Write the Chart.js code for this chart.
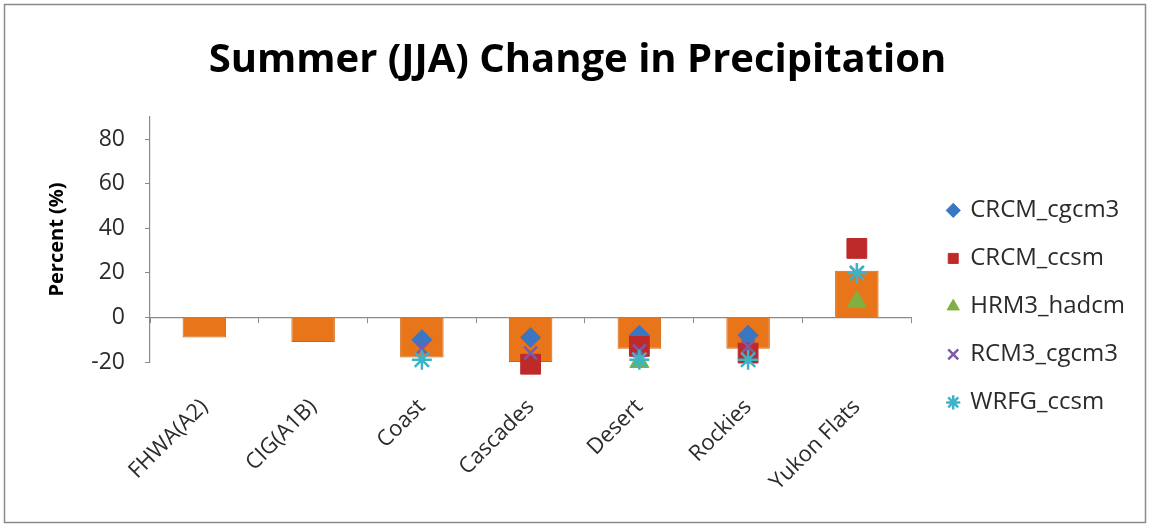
<!DOCTYPE html>
<html>
<head>
<meta charset="utf-8">
<script src="https://cdn.jsdelivr.net/npm/chart.js@4.4.1/dist/chart.umd.min.js"></script>
<style>
  html, body { margin: 0; padding: 0; background: #fff; }
  #wrap { position: relative; width: 1151px; height: 527px; }
</style>
</head>
<body>
<div id="wrap"><canvas id="c" width="1151" height="527"></canvas></div>
<script>
const categories = ['FHWA(A2)', 'CIG(A1B)', 'Coast', 'Cascades', 'Desert', 'Rockies', 'Yukon Flats'];
const ensembleMean = [-9, -11, -18, -20, -14, -14, 21];
const crcmCgcm3 = [null, null, -10, -9, -8, -8, null];
const crcmCcsm  = [null, null, null, -21, -13, -16, 31];
const hrm3Hadcm = [null, null, null, null, -20, null, 7];
const rcm3Cgcm3 = [null, null, -14, -16, -15, -13, 20];
const wrfgCcsm  = [null, null, -19, null, -19, -19, 20];
const yTicks = [-20, 0, 20, 40, 60, 80];
const yMin = -20, yMax = 90;

const FONT = "'Open Sans', 'DejaVu Sans', sans-serif";

const framePlugin = {
  id: 'frame',
  beforeDraw(chart) {
    const ctx = chart.ctx;
    ctx.save();
    ctx.fillStyle = '#ffffff';
    ctx.fillRect(0, 0, chart.width, chart.height);
    ctx.strokeStyle = '#8a8a8a';
    ctx.lineWidth = 1.5;
    ctx.strokeRect(4.5, 4.5, chart.width - 10, chart.height - 9);
    ctx.restore();
  }
};

function markerSet(label, data, style, color, radius, order, bw) {
  return {
    type: 'line', label, data, showLine: false, order, clip: false,
    pointStyle: style, pointRadius: radius, pointHoverRadius: radius,
    backgroundColor: color, borderColor: color, pointBorderWidth: bw,
    borderWidth: bw
  };
}

new Chart(document.getElementById('c'), {
  type: 'bar',
  data: {
    labels: categories,
    datasets: [
      {
        label: 'Ensemble', data: ensembleMean, order: 10,
        backgroundColor: '#E8751A', borderColor: '#D2640E', borderWidth: 1,
        barPercentage: 0.4, categoryPercentage: 1.0
      },
      markerSet('CRCM_cgcm3', crcmCgcm3, 'rectRot', '#3A76C2', 10, 5, 1),
      markerSet('CRCM_ccsm', crcmCcsm, 'rect', '#BE2A2A', 14, 4, 1),
      markerSet('HRM3_hadcm', hrm3Hadcm, 'triangle', '#7FB040', 11, 3, 1),
      markerSet('RCM3_cgcm3', rcm3Cgcm3, 'crossRot', '#7A5BA8', 9, 2, 2.5),
      markerSet('WRFG_ccsm', wrfgCcsm, 'star', '#3CB4C8', 10, 1, 2.5)
    ]
  },
  options: {
    responsive: false,
    animation: false,
    events: [],
    layout: { padding: { top: 10, right: 16, bottom: 23, left: 20 } },
    plugins: {
      title: {
        display: true,
        text: 'Summer (JJA) Change in Precipitation',
        color: '#000',
        font: { family: FONT, size: 40, weight: 'bold' },
        padding: { top: 27, bottom: 32 }
      },
      legend: {
        position: 'right',
        align: 'start',
        maxWidth: 240,
        title: { display: true, text: '', padding: { top: 150, bottom: 0 } },
        labels: {
          usePointStyle: true, boxWidth: 10, boxHeight: 10,
          padding: 24, color: '#2b2b2b',
          font: { family: FONT, size: 24 },
          filter: (item) => item.datasetIndex !== 0,
          sort: (a, b) => a.datasetIndex - b.datasetIndex
        }
      },
      tooltip: { enabled: false }
    },
    scales: {
      x: {
        type: 'category',
        position: 'bottom',
        afterFit: (axis) => { axis.height = 142; },
        grid: { display: false, drawTicks: false },
        border: { display: false },
        ticks: {
          color: '#2b2b2b', font: { family: FONT, size: 22 },
          minRotation: 45, maxRotation: 45, padding: 32
        }
      },
      x0: {
        type: 'category',
        labels: categories,
        position: { y: 0 },
        offset: true,
        grid: { display: true, drawOnChartArea: false, drawTicks: true, tickLength: 5, color: '#8a8a8a', offset: true },
        border: { display: true, color: '#8a8a8a', width: 1.2 },
        ticks: { display: false }
      },
      y: {
        min: yMin, max: yMax,
        afterBuildTicks: (axis) => { axis.ticks = yTicks.map(v => ({ value: v })); },
        afterFit: (axis) => { axis.width = 130; },
        grid: { display: true, drawOnChartArea: false, drawTicks: true, tickLength: 5, color: '#8a8a8a' },
        border: { display: true, color: '#8a8a8a', width: 1.2 },
        ticks: { color: '#2b2b2b', font: { family: FONT, size: 23 }, padding: 20 },
        title: {
          display: true, text: 'Percent (%)', color: '#000',
          font: { family: FONT, size: 20, weight: 'bold' },
          padding: { top: 25, bottom: 10 }
        }
      },
      yR: {
        type: 'linear',
        position: 'right',
        display: true,
        grid: { display: false },
        border: { display: false },
        ticks: { display: false },
        afterFit: (axis) => { axis.width = 13; }
      }
    }
  },
  plugins: [framePlugin]
});
</script>
</body>
</html>
